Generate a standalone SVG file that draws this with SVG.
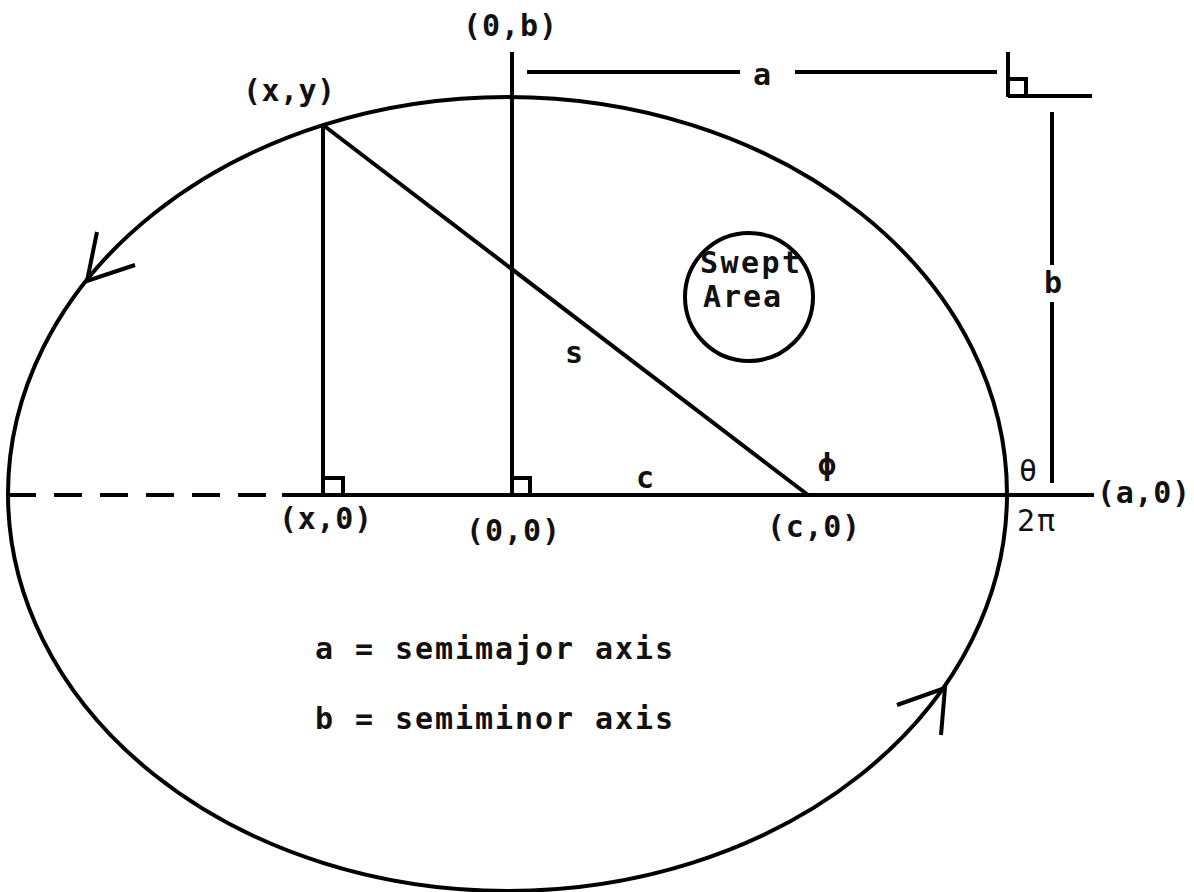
<svg xmlns="http://www.w3.org/2000/svg" width="1194" height="892" viewBox="0 0 1194 892">
<style>
.l{stroke:#000;stroke-width:4;fill:none;stroke-linecap:butt}
.t{font-family:"DejaVu Sans Mono","Liberation Mono",monospace;font-weight:bold;font-size:30px;fill:#111}
</style>
<rect width="1194" height="892" fill="#fff"/>
<g id="ellipse"><ellipse class="l" cx="507.5" cy="494" rx="499.5" ry="397"/></g>
<g id="connectors">
<line class="l" x1="8" y1="495" x2="272" y2="495" stroke-dasharray="28 18"/>
<line class="l" x1="282" y1="495" x2="1094" y2="495"/>
<line class="l" x1="512" y1="52" x2="512" y2="495"/>
<line class="l" x1="323" y1="125" x2="323" y2="495"/>
<line class="l" x1="323" y1="125" x2="808" y2="495"/>
<polyline class="l" points="323,478 343,478 343,495"/>
<polyline class="l" points="512,478 530,478 530,495"/>
<line class="l" x1="527" y1="72" x2="740" y2="72"/>
<line class="l" x1="795" y1="72" x2="997" y2="72"/>
<line class="l" x1="1008" y1="52" x2="1008" y2="97"/>
<line class="l" x1="1008" y1="96" x2="1092" y2="96"/>
<polyline class="l" points="1008,79 1026,79 1026,96"/>
<line class="l" x1="1052" y1="112" x2="1052" y2="265"/>
<line class="l" x1="1052" y1="302" x2="1052" y2="483"/>
<polyline class="l" points="97,232 87,281 135,265"/>
<polyline class="l" points="897,705 945,688 941,735"/>
</g>
<g id="swept"><circle class="l" cx="749" cy="297" r="64"/>
<text class="t" x="700" y="273" textLength="100" lengthAdjust="spacing">Swept</text>
<text class="t" x="703" y="307" textLength="78" lengthAdjust="spacing">Area</text></g>
<g id="labels">
<text class="t" x="463" y="36" textLength="94" lengthAdjust="spacing">(0,b)</text>
<text class="t" x="243" y="101" textLength="92" lengthAdjust="spacing">(x,y)</text>
<text class="t" x="753" y="85">a</text>
<text class="t" x="1044" y="293">b</text>
<text class="t" x="565" y="363">s</text>
<text class="t" x="636" y="488">c</text>
<text class="t" x="818" y="475">ϕ</text>
<text class="t" x="1019" y="481" style="font-weight:normal">θ</text>
<text class="t" x="279" y="529" textLength="93" lengthAdjust="spacing">(x,0)</text>
<text class="t" x="466" y="541" textLength="94" lengthAdjust="spacing">(0,0)</text>
<text class="t" x="767" y="537" textLength="93" lengthAdjust="spacing">(c,0)</text>
<text class="t" x="1097" y="503" textLength="93" lengthAdjust="spacing">(a,0)</text>
<text class="t" x="1017" y="531" style="font-weight:normal" textLength="38" lengthAdjust="spacing">2π</text>
<text class="t" x="315" y="659" textLength="358" lengthAdjust="spacing">a = semimajor axis</text>
<text class="t" x="315" y="729" textLength="358" lengthAdjust="spacing">b = semiminor axis</text>
</g>
</svg>
